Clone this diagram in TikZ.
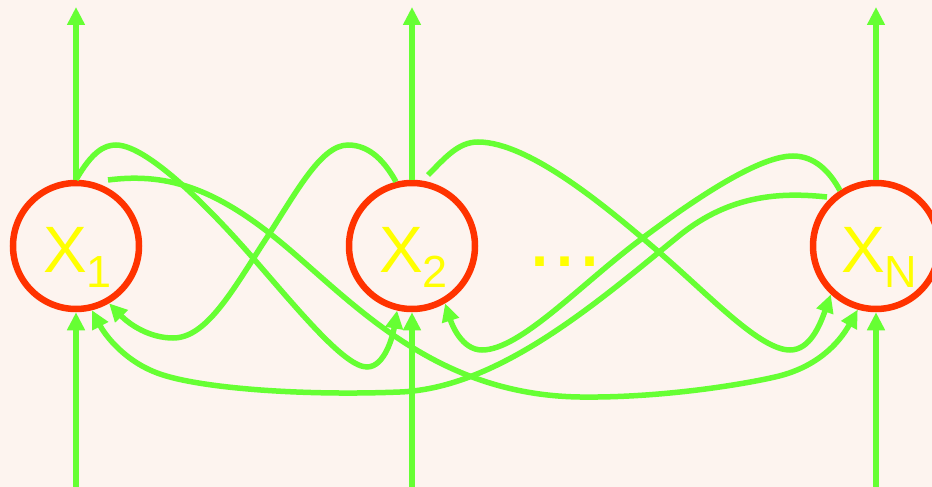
\documentclass[tikz,border=0pt]{standalone}
\usepackage{fontspec}
\setmainfont{Liberation Sans}
\usetikzlibrary{arrows.meta}
\definecolor{bg}{HTML}{FDF4EF}
\definecolor{grn}{HTML}{66FF33}
\definecolor{rd}{HTML}{FF3300}
\definecolor{yl}{HTML}{FFFF00}
\tikzset{
  nodecirc/.style={circle, draw=rd, line width=6.5pt, minimum size=126pt, inner sep=0pt},
  lbl/.style={text=yl, inner sep=0pt, font=\fontsize{65.6}{66}\selectfont},
  arr/.style={draw=grn, line width=5.5pt, -{Triangle[length=18pt,width=17pt]}},
  ln/.style={draw=grn, line width=5.5pt},
}
\newcommand{\subtxt}[1]{\raisebox{-15pt}{\fontsize{45}{45}\selectfont #1}}
\begin{document}
\begin{tikzpicture}[x=1pt,y=-1pt]
\fill[bg] (0,0) rectangle (932,487);
\useasboundingbox (0,0) rectangle (932,487);

\node[nodecirc] (x1) at (76,246) {};
\node[nodecirc] (x2) at (412,246) {};
\node[nodecirc] (xn) at (876,246) {};

\node[lbl, anchor=base west] (l1) at (43,272) {X\subtxt{1}};
\node[lbl, anchor=base west] (l2) at (379,272) {X\subtxt{2}};
\node[lbl, anchor=base west] (ln) at (841,272) {X\subtxt{N}};
\node[text=yl, inner sep=0pt, anchor=base west, font=\fontsize{90}{90}\selectfont] (dots) at (527.6,266) {...};

% vertical in/out lines
\coordinate (t1) at (76,7);
\coordinate (t2) at (412,7);
\coordinate (tn) at (876,7);
\coordinate (b1) at (76,487);
\coordinate (b2) at (412,487);
\coordinate (bn) at (876,487);
\draw[arr] (x1.north) -- (t1);
\draw[arr] (x2.north) -- (t2);
\draw[arr] (xn.north) -- (tn);
\draw[arr] (b1) -- (x1.south);
\draw[arr] (b2) -- (x2.south);
\draw[arr] (bn) -- (xn.south);

% free starting points
\coordinate (s2) at (108,180);
\coordinate (s3) at (827,197);
\coordinate (s5) at (428,175);

% X1 -> X2
\draw[arr] (x1.north) .. controls (92,152) and (104,145) .. (116,145)
  .. controls (150,145) and (220,220) .. (253,258)
  .. controls (300,312) and (345,367) .. (367,367)
  .. controls (385,367) and (393,335) .. (x2.257);
% X1 -> XN
\draw[arr] (s2) .. controls (170,172) and (220,190) .. (290,250)
  .. controls (360,310) and (440,395) .. (580,397)
  .. controls (660,398) and (740,385) .. (775,377)
  .. controls (815,368) and (838,345) .. (xn.254);
% XN -> X1
\draw[arr] (s3) .. controls (780,192) and (730,195) .. (680,235)
  .. controls (600,300) and (500,388) .. (400,392)
  .. controls (300,396) and (200,388) .. (160,374)
  .. controls (125,362) and (105,335) .. (x1.284);
% XN -> X2
\draw[arr] (xn.123) .. controls (830,172) and (815,156) .. (793,156)
  .. controls (760,156) and (700,195) .. (640,240)
  .. controls (580,285) and (520,350) .. (482,350)
  .. controls (462,350) and (452,325) .. (x2.300);
% X2 -> XN
\draw[arr] (s5) .. controls (445,158) and (458,142) .. (478,142)
  .. controls (530,142) and (610,210) .. (660,253)
  .. controls (710,296) and (760,350) .. (790,350)
  .. controls (810,350) and (820,325) .. (xn.227);
% X2 -> X1
\draw[arr] (x2.104) .. controls (385,162) and (370,145) .. (348,145)
  .. controls (320,145) and (295,195) .. (262,245)
  .. controls (230,295) and (205,338) .. (173,338)
  .. controls (150,338) and (130,325) .. (x1.300);
\end{tikzpicture}
\end{document}
